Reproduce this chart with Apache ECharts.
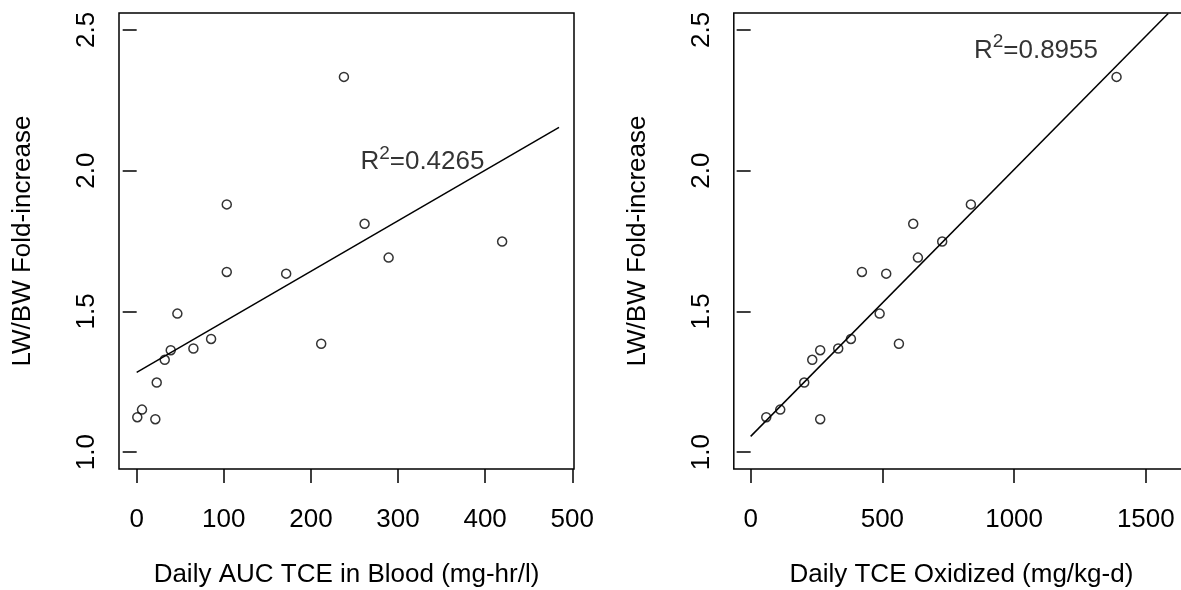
<!DOCTYPE html>
<html><head><meta charset="utf-8">
<script src="https://cdn.jsdelivr.net/npm/echarts@6/dist/echarts.min.js"></script>
<style>html,body{margin:0;padding:0;background:#fff}#c{width:1181px;height:590px}</style>
</head><body><div id="c"></div>
<script>
// Data
const lwbwFold = [1.124,1.151,1.117,1.247,1.328,1.362,1.492,1.368,1.402,1.640,1.880,1.634,1.385,2.333,1.811,1.691,1.748];
const aucBlood = [0.7,6.1,21.4,23.0,32.2,39.1,46.7,65.1,85.4,103.4,103.4,171.6,211.8,237.9,261.6,289.2,419.5];
const tceOxidized = [59.2,112.3,264,203.4,233.8,264,489.6,332.4,380.6,422.4,836,514.6,562.8,1389,617.1,634.9,727.1];
const fitLeft = [[0,1.2836],[484.8,2.154]];
const fitRight = [[0,1.056],[1585,2.558]];
const r2Left = {x:328, y:2.03, text:'0.4265'};
const r2Right = {x:1083, y:2.427, text:'0.8955'};
const xTicksLeft = [0,100,200,300,400,500];
const xTicksRight = [0,500,1000,1500];
const yTicks = [1.0,1.5,2.0,2.5];
const xTitleLeft = 'Daily AUC TCE in Blood (mg-hr/l)';
const xTitleRight = 'Daily TCE Oxidized (mg/kg-d)';
const yTitle = 'LW/BW Fold-increase';

const FONT = 'Liberation Sans, Arial, Helvetica, sans-serif';
const FS = 26;
const chart = echarts.init(document.getElementById('c'), null, {renderer:'canvas'});

function xAxis(gi, min, max, ticks, title){
  return {type:'value', gridIndex:gi, min:min, max:max,
    axisLine:{show:false}, splitLine:{show:false},
    axisTick:{show:true, inside:false, length:14, lineStyle:{color:'#000', width:1.5}, customValues:ticks},
    axisLabel:{show:true, margin:38, color:'#000', fontFamily:FONT, fontSize:FS, customValues:ticks, formatter:v=>String(v)},
    name:title, nameLocation:'middle', nameGap:93, nameTextStyle:{color:'#000', fontFamily:FONT, fontSize:FS}};
}
function yAxis(gi){
  return {type:'value', gridIndex:gi, min:0.94, max:2.56,
    axisLine:{show:false}, splitLine:{show:false},
    axisTick:{show:true, inside:false, length:14, lineStyle:{color:'#000', width:1.5}, customValues:yTicks},
    axisLabel:{show:true, rotate:90, margin:19, color:'#000', fontFamily:FONT, fontSize:FS, customValues:yTicks, formatter:v=>v.toFixed(1)},
    name:yTitle, nameLocation:'middle', nameGap:83, nameRotate:90, nameTextStyle:{color:'#000', fontFamily:FONT, fontSize:FS}};
}
function pts(xs){ return xs.map((x,i)=>[x, lwbwFold[i]]); }
function r2Series(gi, r){
  return {type:'scatter', xAxisIndex:gi, yAxisIndex:gi, symbolSize:0, silent:true,
    data:[[r.x, r.y]],
    label:{show:true, position:'inside', align:'center', verticalAlign:'middle', color:'#000', textBorderWidth:0,
      formatter:'{r|R}{s|2}{r|=' + r.text + '}',
      rich:{r:{fontFamily:FONT, fontSize:FS, color:'#000', lineHeight:36, textBorderWidth:0},
            s:{fontFamily:FONT, fontSize:19, color:'#000', lineHeight:19, verticalAlign:'top', textBorderWidth:0}}}};
}
const option = {
  backgroundColor:'#fff',
  animation:false,
  grid:[
    {left:119, top:13, width:455, height:456, show:true, borderColor:'#000', borderWidth:1.5, backgroundColor:'transparent', containLabel:false, outerBoundsMode:'none'},
    {left:733.8, top:13, width:455.2, height:456, show:true, borderColor:'#000', borderWidth:1.5, backgroundColor:'transparent', containLabel:false, outerBoundsMode:'none'}
  ],
  xAxis:[ xAxis(0,-20.3,502,xTicksLeft,xTitleLeft), xAxis(1,-64,1664,xTicksRight,xTitleRight) ],
  yAxis:[ yAxis(0), yAxis(1) ],
  series:[
    {type:'line', xAxisIndex:0, yAxisIndex:0, data:fitLeft, symbol:'none', lineStyle:{color:'#000', width:1.5}},
    {type:'line', xAxisIndex:1, yAxisIndex:1, data:fitRight, symbol:'none', lineStyle:{color:'#000', width:1.5}},
    {type:'scatter', xAxisIndex:0, yAxisIndex:0, data:pts(aucBlood), symbol:'circle', symbolSize:9,
      itemStyle:{color:'transparent', borderColor:'#000', borderWidth:1.5}},
    {type:'scatter', xAxisIndex:1, yAxisIndex:1, data:pts(tceOxidized), symbol:'circle', symbolSize:9,
      itemStyle:{color:'transparent', borderColor:'#000', borderWidth:1.5}},
    r2Series(0, r2Left),
    r2Series(1, r2Right)
  ]
};
chart.setOption(option);
</script></body></html>
